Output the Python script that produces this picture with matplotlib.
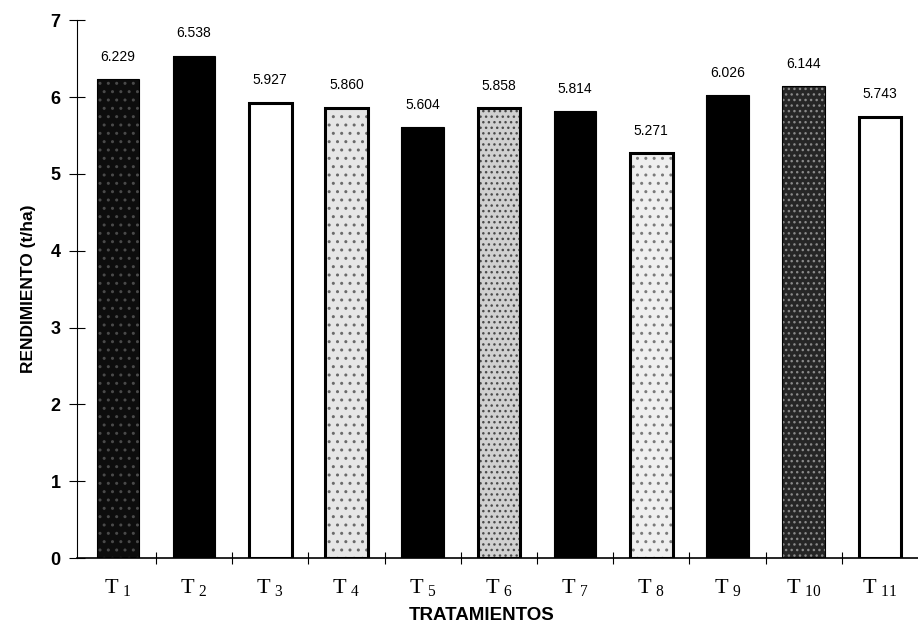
import matplotlib
matplotlib.use('Agg')
import matplotlib.pyplot as plt

tratamientos = ['1', '2', '3', '4', '5', '6', '7', '8', '9', '10', '11']
rendimiento = [6.229, 6.538, 5.927, 5.860, 5.604, 5.858, 5.814, 5.271, 6.026, 6.144, 5.743]

# fill, hatch pattern, hatch colour, outlined
estilos = [
    ('#0d0d0d', '..', '#4a4a4a', False),
    ('black', None, 'white', False),
    ('white', None, 'black', True),
    ('#e6e6e6', '..', '#6a6a6a', True),
    ('black', None, 'white', False),
    ('#d0d0d0', '...', '#4a4a4a', True),
    ('black', None, 'white', False),
    ('#efefef', '..', '#7a7a7a', True),
    ('black', None, 'white', False),
    ('#262626', '...', '#8a8a8a', False),
    ('white', None, 'black', True),
]

plt.rcParams['font.family'] = ['Liberation Sans', 'DejaVu Sans']
plt.rcParams['mathtext.fontset'] = 'custom'
plt.rcParams['mathtext.rm'] = 'Liberation Serif'
plt.rcParams['hatch.linewidth'] = 1.0

fig = plt.figure(figsize=(9.18, 6.32), dpi=100)
ax = fig.add_axes([0.084, 0.117, 0.916, 0.851])

ancho = 0.56
for i, (v, est) in enumerate(zip(rendimiento, estilos)):
    fc, hatch, hc, borde = est
    ax.bar(i, v, width=ancho, color=fc, edgecolor=hc, hatch=hatch, linewidth=0, zorder=2)
    ax.bar(i, v, width=ancho, fill=False, edgecolor='black',
           linewidth=2.2 if borde else 0.8, zorder=3)
    ax.text(i, v + 0.2, f'{v:.3f}', ha='center', va='bottom', fontsize=10)

ax.set_xlim(-0.535, 10.5)
ax.set_ylim(0, 7)
ax.set_yticks(range(0, 8))
ax.set_yticklabels([str(t) for t in range(0, 8)], fontsize=13, fontweight='bold')

# x ticks sit between bars
ax.set_xticks([i + 0.5 for i in range(len(rendimiento) - 1)])
ax.set_xticklabels([])
ax.tick_params(axis='x', direction='inout', length=8, width=0.8)
ax.tick_params(axis='y', direction='inout', length=12, width=0.8, pad=6)

for i, t in enumerate(tratamientos):
    ax.text(i, -0.25, r'$\mathrm{T}_{\ ' + t + '}$', ha='center', va='top',
            fontsize=16)

for s in ['top', 'right']:
    ax.spines[s].set_visible(False)
ax.spines['left'].set_linewidth(0.8)
ax.spines['bottom'].set_linewidth(1.2)

ax.set_ylabel('RENDIMIENTO (t/ha)', fontsize=12.5, fontweight='bold', labelpad=10)
fig.text(0.525, 0.012, 'TRATAMIENTOS', ha='center', va='bottom', fontsize=13.5,
         fontweight='bold', family=['Liberation Sans Narrow', 'Liberation Sans'])

plt.savefig('out.png', dpi=100)
plt.close()
